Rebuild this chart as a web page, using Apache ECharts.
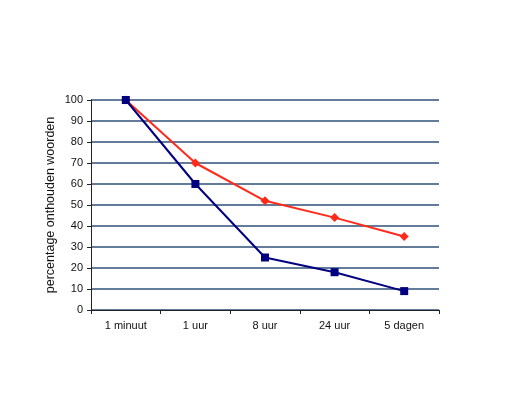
<!DOCTYPE html>
<html>
<head>
<meta charset="utf-8">
<script src="https://cdn.jsdelivr.net/npm/echarts@6/dist/echarts.min.js"></script>
<style>
  html, body { margin: 0; padding: 0; background: #fff; }
  #chart { width: 507px; height: 400px; }
</style>
</head>
<body>
<div id="chart"></div>
<script>
var categories = ['1 minuut', '1 uur', '8 uur', '24 uur', '5 dagen'];
var redValues = [100, 70, 52, 44, 35];
var blueValues = [100, 60, 25, 18, 9];
var yTicks = [0, 10, 20, 30, 40, 50, 60, 70, 80, 90, 100];

var myChart = echarts.init(document.getElementById('chart'));
myChart.setOption({
  animation: false,
  backgroundColor: '#fff',
  textStyle: { fontFamily: 'Liberation Sans, Arial, sans-serif' },
  grid: { left: 91, right: 68, top: 100, bottom: 90 },
  xAxis: {
    type: 'category',
    data: categories,
    boundaryGap: true,
    axisLine: { lineStyle: { color: '#222', width: 1 } },
    axisTick: { show: true, length: 4, inside: false, lineStyle: { color: '#222' } },
    axisLabel: { color: '#111', fontSize: 11, margin: 10 }
  },
  yAxis: {
    type: 'value',
    min: yTicks[0],
    max: yTicks[yTicks.length - 1],
    interval: 10,
    name: 'percentage onthouden woorden',
    nameLocation: 'middle',
    nameRotate: 90,
    nameGap: 34,
    nameMoveOverlap: false,
    nameTextStyle: { color: '#111', fontSize: 12.5 },
    axisLine: { show: true, lineStyle: { color: '#222', width: 1 } },
    axisTick: { show: true, length: 4, lineStyle: { color: '#222' } },
    axisLabel: { color: '#111', fontSize: 11, margin: 8 },
    splitLine: { lineStyle: { color: '#2f5179', width: 1.5 } }
  },
  series: [
    {
      name: 'rood',
      type: 'line',
      data: redValues,
      symbol: 'diamond',
      symbolSize: 9,
      itemStyle: { color: '#ff2a1a' },
      lineStyle: { color: '#ff2a1a', width: 2 },
      z: 3
    },
    {
      name: 'blauw',
      type: 'line',
      data: blueValues,
      symbol: 'rect',
      symbolSize: 8,
      itemStyle: { color: '#000080' },
      lineStyle: { color: '#000080', width: 2 },
      z: 4
    }
  ]
});
</script>
</body>
</html>
